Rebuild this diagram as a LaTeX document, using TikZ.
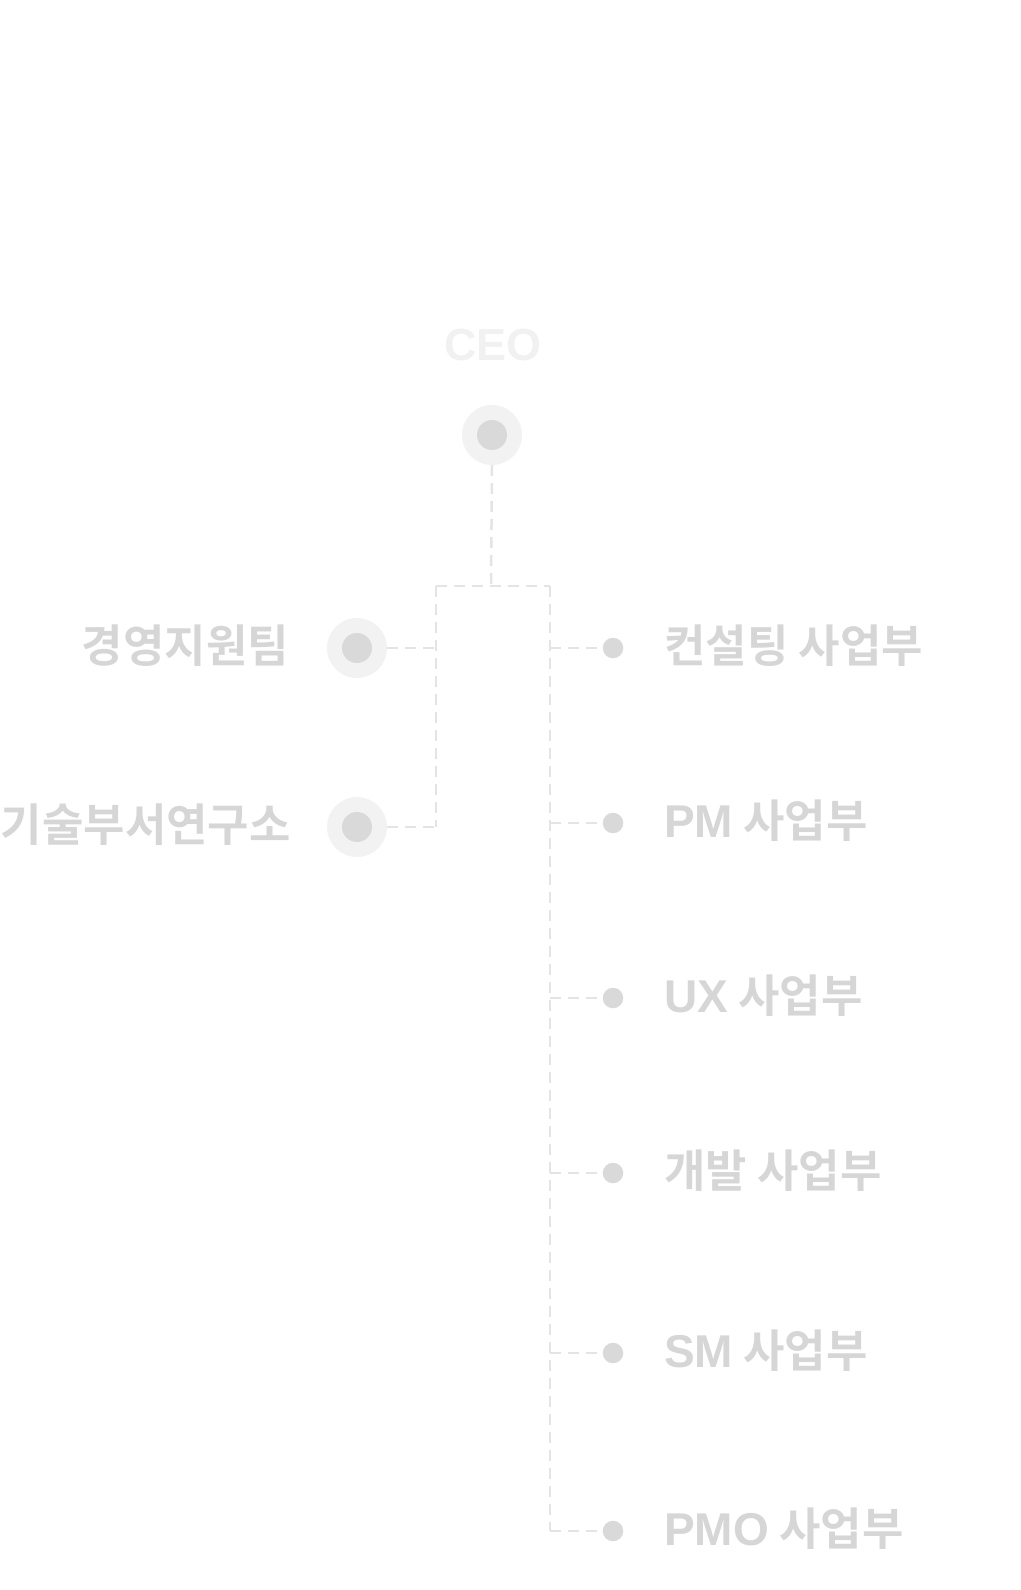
\documentclass[tikz,border=0pt]{standalone}
\usepackage{fontspec}
\setmainfont{Noto Sans CJK KR}[BoldFont=* Bold]
\newfontfamily\kr{Noto Sans CJK KR}[BoldFont=* Bold]
\newfontfamily\lat{Liberation Sans}
\newcommand{\la}[1]{{\lat\bfseries\fontsize{46}{50}\selectfont #1}}
\definecolor{txt}{HTML}{D6D6D6}
\definecolor{dotc}{HTML}{D9D9D9}
\definecolor{halo}{HTML}{F2F2F2}
\definecolor{ceotxt}{HTML}{F1F1F1}
\definecolor{linec}{HTML}{E4E4E4}
\tikzset{
  halodot/.style={circle, fill=halo, minimum size=60pt, inner sep=0pt, outer sep=0pt,
    path picture={\fill[dotc] (path picture bounding box.center) circle (15pt);}},
  smalldot/.style={circle, fill=dotc, minimum size=20.5pt, inner sep=0pt, outer sep=0pt},
  lbl/.style={text=txt, font=\kr\bfseries\fontsize{45}{50}\selectfont, inner sep=0pt},
  conn/.style={draw=linec, line width=2.5pt, dash pattern=on 11pt off 7pt},
}
\begin{document}
\begin{tikzpicture}[x=1pt, y=-1pt]
\useasboundingbox (0,0) rectangle (1020,1590);
% CEO
\node[text=ceotxt, font=\lat\bfseries\fontsize{45}{50}\selectfont, inner sep=0pt] (ceotext) at (493,345) {CEO};
\node[halodot] (ceo) at (492,435) {};
% left
\node[halodot] (l1) at (357,648) {};
\node[halodot] (l2) at (357,827) {};
\node[lbl, anchor=east] (t1) at (289,646) {경영지원팀};
\node[lbl, anchor=east] (t2) at (291,825) {기술부서연구소};
% right
\node[smalldot] (r1) at (613,648) {};
\node[smalldot] (r2) at (613,823) {};
\node[smalldot] (r3) at (613,998) {};
\node[smalldot] (r4) at (613,1173) {};
\node[smalldot] (r5) at (613,1353) {};
\node[smalldot] (r6) at (613,1531) {};
\node[lbl, anchor=west] (s1) at (664,646) {컨설팅 사업부};
\node[lbl, anchor=west] (s2) at (664,821) {\la{PM} 사업부};
\node[lbl, anchor=west] (s3) at (664,996) {\la{UX} 사업부};
\node[lbl, anchor=west] (s4) at (664,1171) {개발 사업부};
\node[lbl, anchor=west] (s5) at (664,1351) {\la{SM} 사업부};
\node[lbl, anchor=west] (s6) at (664,1529) {\la{PMO} 사업부};
% junctions
\coordinate (jt) at (491,586);
\coordinate (jl) at (436,586);
\coordinate (jr) at (550,586);
\coordinate (jlb) at (436,827);
\coordinate (jrb) at (550,1531);
% connectors
\draw[conn] (ceo.south) -- (jt);
\draw[conn] (jl) -- (jr);
\draw[conn] (jl) -- (jlb);
\draw[conn] (jr) -- (jrb);
\draw[conn] (l1.east) -- (l1.east -| jl);
\draw[conn] (l2.east) -- (jlb);
\foreach \n in {r1,r2,r3,r4,r5,r6}{
  \draw[conn] (\n.west -| jr) -- (\n.west);
}
\end{tikzpicture}
\end{document}
